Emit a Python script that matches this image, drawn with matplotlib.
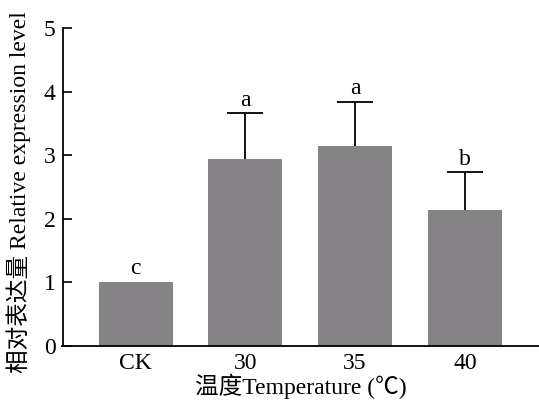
import numpy as np
import matplotlib.pyplot as plt

plt.rcParams['font.family'] = ['Liberation Serif', 'Noto Sans CJK SC']

groups = ['CK', '30', '35', '40']
means = [1.0, 2.94, 3.14, 2.13]
errs = [0.0, 0.72, 0.70, 0.60]
letters = ['c', 'a', 'a', 'b']

fig = plt.figure(figsize=(5.39, 4.01), dpi=100)
ax = fig.add_axes([62.5/539, (401-345.7)/401, 1-62.5/539, (345.7-28.3)/401])

x = np.arange(len(groups))
top = np.array(means) + np.array(errs)
ax.bar(x, means, width=0.674, color='#858386', zorder=2)
# upper error bars only
ax.vlines(x[1:], np.array(means)[1:], top[1:], color='black', lw=1.3, zorder=3)
ax.hlines(top[1:], x[1:] - 0.165, x[1:] + 0.165, color='black', lw=1.3, zorder=3)

for xi, t_y, t in zip(x, top, letters):
    ax.annotate(t, (xi, t_y), xytext=(0, 2), textcoords='offset points',
                ha='center', va='bottom', fontsize=17)

ax.set_xlim(-0.665, 3.675)
ax.set_ylim(0, 5)
ax.set_xticks(x)
ax.set_xticklabels(groups, fontsize=17)
ax.set_yticks(range(6))
ax.tick_params(axis='y', direction='in', length=6.5, width=1.2, labelsize=17, pad=5)
ax.tick_params(axis='x', length=0, pad=5)
for s in ['top', 'right']:
    ax.spines[s].set_visible(False)
for s in ['left', 'bottom']:
    ax.spines[s].set_linewidth(1.3)

ax.set_ylabel('相对表达量 Relative expression level', fontsize=17, va='center')
ax.yaxis.set_label_coords(-0.093, 0.483)
ax.set_xlabel('温度Temperature (℃)', fontsize=17, labelpad=0)

fig.savefig('out.png', dpi=100)
